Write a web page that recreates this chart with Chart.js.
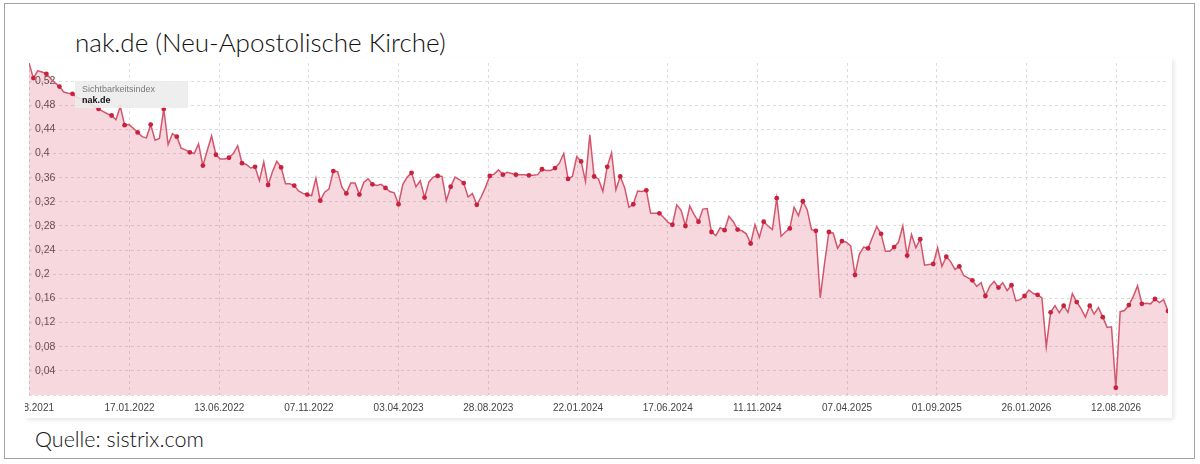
<!DOCTYPE html>
<html>
<head>
<meta charset="utf-8">
<script src="https://cdn.jsdelivr.net/npm/chart.js@4.4.1/dist/chart.umd.min.js"></script>
<style>
  body { margin: 0; background: #fff; }
  #frame {
    position: absolute; left: 4px; top: 3px; width: 1189px; height: 454px;
    border: 1.5px solid #a3a3a3; background: #fff;
  }
  #title {
    position: absolute; left: 75px; top: 26px; margin: 0;
    font: 300 26px Lato, "Open Sans", sans-serif; color: #111; white-space: nowrap;
  }
  #source {
    position: absolute; left: 35px; top: 426px;
    font: 300 21.5px Lato, "Open Sans", sans-serif; color: #111; white-space: nowrap;
  }
  #card {
    position: absolute; left: 25px; top: 58px; width: 1147px; height: 360px;
    overflow: hidden; background: #fff;
    box-shadow: 2px 2px 4px rgba(0, 0, 0, 0.10);
  }
  #legendBox {
    position: absolute; left: 75px; top: 81px; width: 113px; height: 27px;
    background: rgba(236, 236, 236, 0.88);
    font-family: "Liberation Sans", Arial, sans-serif; font-size: 9px;
  }
  #legendBox .lbl { position: absolute; left: 7px; top: 3px; color: #7a7a7a; }
  #legendBox .dom { position: absolute; left: 7px; top: 14px; color: #111; font-weight: bold; }
</style>
</head>
<body>
<div id="frame"></div>
<div id="title">nak.de (Neu-Apostolische Kirche)</div>
<div id="card"><canvas id="sistrixChart" width="1147" height="363"></canvas></div>
<div id="legendBox"><span class="lbl">Sichtbarkeitsindex</span><span class="dom">nak.de</span></div>
<div id="source">Quelle: sistrix.com</div>

<script>
/// === DATA === ///
const tickLabels = [
  '23.08.2021', '17.01.2022', '13.06.2022', '07.11.2022', '03.04.2023', '28.08.2023',
  '22.01.2024', '17.06.2024', '11.11.2024', '07.04.2025', '01.09.2025', '26.01.2026',
  '12.08.2026'
];

const yTicks = [0.04, 0.08, 0.12, 0.16, 0.2, 0.24, 0.28, 0.32, 0.36, 0.4, 0.44, 0.48, 0.52];

// weekly Sichtbarkeitsindex
const sichtbarkeit = [
  0.550, 0.525, 0.537, 0.535, 0.532, 0.524, 0.517, 0.511, 0.502, 0.500,
  0.499, 0.493, 0.490, 0.487, 0.484, 0.478, 0.474, 0.470, 0.466, 0.463,
  0.456, 0.478, 0.447, 0.448, 0.442, 0.435, 0.428, 0.426, 0.448, 0.422,
  0.425, 0.474, 0.415, 0.433, 0.428, 0.409, 0.406, 0.402, 0.400, 0.416,
  0.380, 0.405, 0.429, 0.398, 0.391, 0.391, 0.393, 0.400, 0.413, 0.384,
  0.382, 0.376, 0.378, 0.355, 0.386, 0.348, 0.370, 0.387, 0.377, 0.350,
  0.350, 0.347, 0.338, 0.334, 0.332, 0.330, 0.359, 0.322, 0.336, 0.341,
  0.371, 0.370, 0.344, 0.334, 0.351, 0.351, 0.332, 0.352, 0.358, 0.349,
  0.347, 0.349, 0.343, 0.337, 0.335, 0.316, 0.349, 0.361, 0.368, 0.345,
  0.355, 0.327, 0.353, 0.361, 0.363, 0.362, 0.322, 0.345, 0.361, 0.357,
  0.351, 0.328, 0.334, 0.315, 0.328, 0.344, 0.363, 0.366, 0.373, 0.365,
  0.369, 0.367, 0.365, 0.365, 0.365, 0.364, 0.364, 0.365, 0.374, 0.372,
  0.372, 0.376, 0.384, 0.400, 0.358, 0.362, 0.395, 0.387, 0.354, 0.431,
  0.362, 0.358, 0.337, 0.378, 0.401, 0.340, 0.362, 0.344, 0.311, 0.316,
  0.338, 0.337, 0.339, 0.301, 0.301, 0.301, 0.294, 0.286, 0.282, 0.315,
  0.306, 0.280, 0.313, 0.299, 0.287, 0.308, 0.309, 0.270, 0.264, 0.277,
  0.273, 0.296, 0.287, 0.274, 0.272, 0.267, 0.251, 0.282, 0.261, 0.287,
  0.280, 0.274, 0.326, 0.263, 0.270, 0.276, 0.311, 0.297, 0.321, 0.307,
  0.274, 0.272, 0.161, 0.218, 0.270, 0.268, 0.243, 0.255, 0.253, 0.247,
  0.199, 0.233, 0.245, 0.243, 0.261, 0.279, 0.267, 0.238, 0.238, 0.245,
  0.253, 0.280, 0.231, 0.266, 0.244, 0.258, 0.215, 0.216, 0.217, 0.244,
  0.213, 0.229, 0.221, 0.208, 0.213, 0.198, 0.194, 0.190, 0.180, 0.186,
  0.164, 0.180, 0.188, 0.178, 0.186, 0.173, 0.182, 0.156, 0.158, 0.164,
  0.174, 0.168, 0.166, 0.161, 0.080, 0.137, 0.148, 0.136, 0.148, 0.137,
  0.168, 0.154, 0.143, 0.129, 0.148, 0.134, 0.145, 0.129, 0.112, 0.113,
  0.012, 0.138, 0.140, 0.149, 0.163, 0.181, 0.151, 0.152, 0.151, 0.159,
  0.153, 0.158, 0.139
];

/// === AXIS HELPERS === ///
// first label sits on the left edge (cut off), the rest every ~20.6 weeks
const secondTickWeek = 23.13;
const tickEveryWeeks = 20.63;

const tickWeek = index => (index === 0 ? 0 : secondTickWeek + (index - 1) * tickEveryWeeks);

const formatIndex = value => {
  if (value === 0) return '';
  return Number(value.toFixed(2)).toString().replace('.', ',');
};

/// === CHART === ///
const points = sichtbarkeit.map((value, week) => ({ x: week, y: value }));

new Chart(
  document.getElementById('sistrixChart'),
  {
    type: 'line',
    data: {
      datasets: [
        {
          label: 'nak.de',
          data: points,
          borderColor: '#d4566c',
          borderWidth: 1.5,
          backgroundColor: 'rgba(214, 60, 90, 0.2)',
          fill: 'origin',
          tension: 0,
          pointRadius: ctx => (ctx.dataIndex % 3 === 1 ? 2.4 : 0),
          pointBackgroundColor: '#c8223e',
          pointBorderWidth: 0
        }
      ]
    },
    options: {
      responsive: false,
      animation: false,
      layout: { padding: { top: 5, right: 3, bottom: 0, left: 0 } },
      plugins: {
        legend: { display: false },
        tooltip: { enabled: false }
      },
      scales: {
        x: {
          type: 'linear',
          min: 0,
          max: sichtbarkeit.length - 1,
          afterBuildTicks: axis => {
            axis.ticks = tickLabels.map((label, i) => ({ value: tickWeek(i) }));
          },
          afterFit: axis => {
            axis.paddingLeft = 0;
            axis.paddingRight = 0;
          },
          ticks: {
            autoSkip: false,
            maxRotation: 0,
            padding: 7,
            color: '#444',
            font: { family: '"Liberation Sans", Arial, sans-serif', size: 10 },
            callback: (value, index) => tickLabels[index]
          },
          grid: { color: '#dcdcdc', drawTicks: false },
          border: { display: false, dash: [3, 3] }
        },
        y: {
          min: 0,
          max: 0.55,
          afterBuildTicks: axis => {
            axis.ticks = [0].concat(yTicks).map(value => ({ value }));
          },
          afterFit: axis => {
            axis.width = 0;
            axis.paddingTop = 0;
            axis.paddingBottom = 0;
          },
          ticks: {
            mirror: true,
            padding: 6,
            color: '#505050',
            font: { family: '"Liberation Sans", Arial, sans-serif', size: 10.5 },
            callback: value => formatIndex(value)
          },
          grid: { color: '#dcdcdc', drawTicks: false },
          border: { display: false, dash: [3, 3] }
        }
      }
    }
  }
);
</script>
</body>
</html>
